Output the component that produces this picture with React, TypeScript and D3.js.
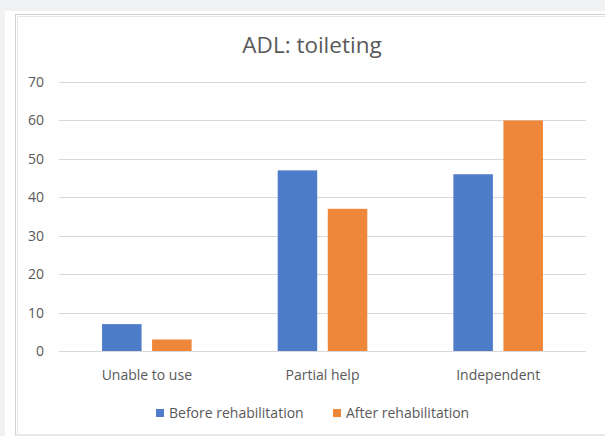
import React from "react";
import * as d3 from "d3";

const categories = ["Unable to use", "Partial help", "Independent"];
const seriesNames = ["Before rehabilitation", "After rehabilitation"];
const beforeValues = [7, 47, 46];
const afterValues = [3, 37, 60];
const yTicks = [0, 10, 20, 30, 40, 50, 60, 70];
const title = "ADL: toileting";

const W = 605;
const H = 436;
const COLORS = ["#4E7CC9", "#EE873A"];
const FONT = "'Open Sans', sans-serif";
const TEXT = "#595959";

export default function App() {
  const plotLeft = 59;
  const plotRight = 586;
  const plotTop = 82;
  const plotBottom = 351;

  const x = d3.scaleBand<string>().domain(categories).range([plotLeft, plotRight]).padding(0);
  const y = d3.scaleLinear().domain([0, 70]).range([plotBottom, plotTop]);
  const bw = x.bandwidth();
  const barW = bw * 0.225;
  const innerGap = bw * 0.06;
  const series = [beforeValues, afterValues];

  return (
    <svg
      width={W}
      height={H}
      style={{ position: "fixed", left: 0, top: 0, display: "block" }}
      xmlns="http://www.w3.org/2000/svg"
    >
      <rect x={0} y={0} width={W} height={H} fill="#eff1f3" />
      <rect x={5} y={11} width={W - 5} height={H - 11} fill="#ffffff" />
      <rect x={15.5} y={14.5} width={W} height={420.5} fill="#ffffff" stroke="#d0d0d0" strokeWidth={1} />
      <line x1={17.5} y1={16.5} x2={W} y2={16.5} stroke="#e6e6e6" />
      <line x1={17.5} y1={16.5} x2={17.5} y2={434} stroke="#e6e6e6" />

      <text
        x={312}
        y={53}
        textAnchor="middle"
        fontFamily={FONT}
        fontSize={22.5}
        fill={TEXT}
      >
        {title}
      </text>

      {yTicks.map((t) => (
        <g key={t}>
          <line
            x1={plotLeft}
            x2={plotRight}
            y1={Math.round(y(t)) + 0.5}
            y2={Math.round(y(t)) + 0.5}
            stroke="#d9d9d9"
            strokeWidth={1}
          />
          <text
            x={44}
            y={y(t) + 5}
            textAnchor="end"
            fontFamily={FONT}
            fontSize={14}
            fill={TEXT}
          >
            {t}
          </text>
        </g>
      ))}

      {categories.map((c, i) => {
        const center = (x(c) as number) + bw / 2;
        return (
          <g key={c}>
            {series.map((vals, s) => {
              const bx = s === 0 ? center - innerGap / 2 - barW : center + innerGap / 2;
              return (
                <rect
                  key={s}
                  x={bx}
                  y={y(vals[i])}
                  width={barW}
                  height={plotBottom - y(vals[i])}
                  fill={COLORS[s]}
                />
              );
            })}
            <text
              x={center}
              y={380}
              textAnchor="middle"
              fontFamily={FONT}
              fontSize={14}
              fill={TEXT}
            >
              {c}
            </text>
          </g>
        );
      })}

      {seriesNames.map((name, s) => {
        const lx = s === 0 ? 156 : 333;
        return (
          <g key={name}>
            <rect x={lx} y={409} width={8} height={8} fill={COLORS[s]} />
            <text x={lx + 13} y={418} fontFamily={FONT} fontSize={14} fill={TEXT}>
              {name}
            </text>
          </g>
        );
      })}
    </svg>
  );
}
